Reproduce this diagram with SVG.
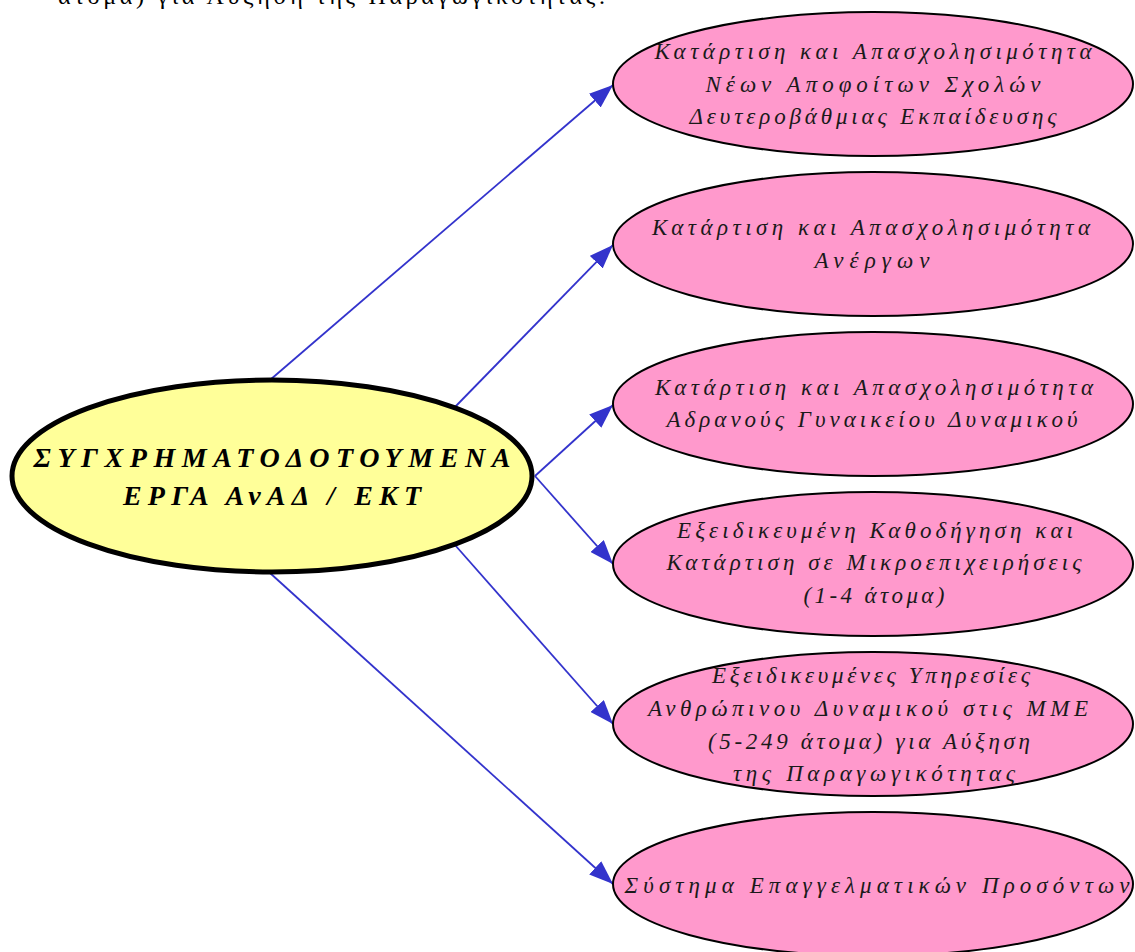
<svg xmlns="http://www.w3.org/2000/svg" width="1135" height="952" viewBox="0 0 1135 952">
<style>
.bg{fill:#ffffff}
.pink{fill:#FF99CC;stroke:#000000;stroke-width:2}
.yellow{fill:#FFFF99;stroke:#000000;stroke-width:5}
.lbl{font-family:"Liberation Serif","Times New Roman",serif;font-style:italic;font-size:23px;fill:#1a1a1a;text-anchor:middle}
.title{font-family:"Liberation Serif","Times New Roman",serif;font-style:italic;font-weight:bold;font-size:28px;fill:#000000;text-anchor:middle}
.top{font-family:"Liberation Serif","Times New Roman",serif;font-size:24px;fill:#000000}
.edge{stroke:#3333CC;stroke-width:1.8;fill:none;marker-end:url(#arr)}
</style>
<defs>
<marker id="arr" viewBox="0 0 24 18" refX="24" refY="9" markerWidth="24" markerHeight="18" markerUnits="userSpaceOnUse" orient="auto">
<path d="M0,0 L24,9 L0,18 z" fill="#3333CC"/>
</marker>
</defs>
<rect class="bg" x="0" y="0" width="1135" height="952"/>
<text class="top" x="58" y="4" textLength="547" lengthAdjust="spacing">άτομα) για Αύξηση της Παραγωγικότητας.</text>
<g id="connectors">
<line class="edge" x1="270" y1="380" x2="613" y2="85"/>
<line class="edge" x1="455" y1="407" x2="613" y2="245"/>
<line class="edge" x1="535" y1="476" x2="613" y2="405"/>
<line class="edge" x1="535" y1="476" x2="613" y2="564"/>
<line class="edge" x1="455" y1="545" x2="613" y2="724"/>
<line class="edge" x1="270" y1="573" x2="613" y2="884"/>
</g>
<g id="center">
<ellipse class="yellow" cx="272" cy="476" rx="260" ry="96"/>
<text class="title" x="272" y="467" textLength="477" lengthAdjust="spacing">ΣΥΓΧΡΗΜΑΤΟΔΟΤΟΥΜΕΝΑ</text>
<text class="title" x="272" y="505" textLength="298" lengthAdjust="spacing">ΕΡΓΑ ΑνΑΔ / ΕΚΤ</text>
</g>
<g id="n1">
<ellipse class="pink" cx="873" cy="84" rx="260" ry="72"/>
<text class="lbl" x="873" y="59" textLength="437" lengthAdjust="spacing">Κατάρτιση και Απασχολησιμότητα</text>
<text class="lbl" x="873" y="92" textLength="335" lengthAdjust="spacing">Νέων Αποφοίτων Σχολών</text>
<text class="lbl" x="873" y="124" textLength="367" lengthAdjust="spacing">Δευτεροβάθμιας Εκπαίδευσης</text>
</g>
<g id="n2">
<ellipse class="pink" cx="873" cy="244" rx="260" ry="72"/>
<text class="lbl" x="871" y="235" textLength="438" lengthAdjust="spacing">Κατάρτιση και Απασχολησιμότητα</text>
<text class="lbl" x="872" y="268" textLength="115" lengthAdjust="spacing">Ανέργων</text>
</g>
<g id="n3">
<ellipse class="pink" cx="873" cy="404" rx="260" ry="72"/>
<text class="lbl" x="874" y="395" textLength="438" lengthAdjust="spacing">Κατάρτιση και Απασχολησιμότητα</text>
<text class="lbl" x="872" y="427" textLength="411" lengthAdjust="spacing">Αδρανούς Γυναικείου Δυναμικού</text>
</g>
<g id="n4">
<ellipse class="pink" cx="873" cy="564" rx="260" ry="72"/>
<text class="lbl" x="875" y="538" textLength="396" lengthAdjust="spacing">Εξειδικευμένη Καθοδήγηση και</text>
<text class="lbl" x="874" y="570" textLength="415" lengthAdjust="spacing">Κατάρτιση σε Μικροεπιχειρήσεις</text>
<text class="lbl" x="874" y="603" textLength="141" lengthAdjust="spacing">(1-4 άτομα)</text>
</g>
<g id="n5">
<ellipse class="pink" cx="873" cy="724" rx="260" ry="72"/>
<text class="lbl" x="871" y="683" textLength="318" lengthAdjust="spacing">Εξειδικευμένες Υπηρεσίες</text>
<text class="lbl" x="868" y="716" textLength="440" lengthAdjust="spacing">Ανθρώπινου Δυναμικού στις ΜΜΕ</text>
<text class="lbl" x="869" y="749" textLength="322" lengthAdjust="spacing">(5-249 άτομα) για Αύξηση</text>
<text class="lbl" x="874" y="781" textLength="282" lengthAdjust="spacing">της Παραγωγικότητας</text>
</g>
<g id="n6">
<ellipse class="pink" cx="873" cy="884" rx="260" ry="72"/>
<text class="lbl" x="877" y="893" textLength="505" lengthAdjust="spacing">Σύστημα Επαγγελματικών Προσόντων</text>
</g>
</svg>
